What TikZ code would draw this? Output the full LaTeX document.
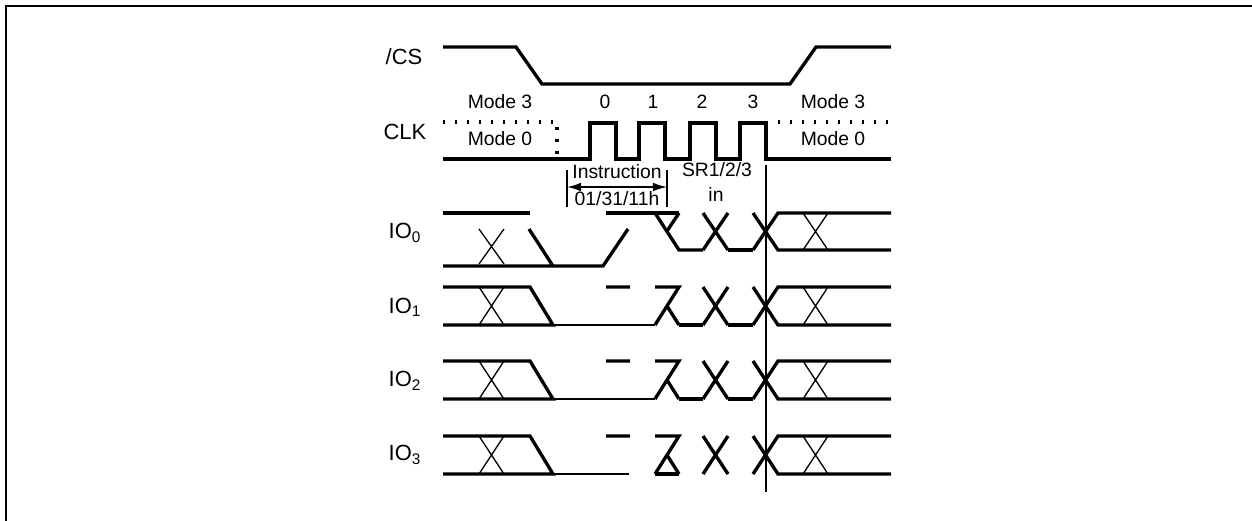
\documentclass[tikz,border=0pt]{standalone}
\usepackage{fontspec}
\setmainfont{Liberation Sans}
\usetikzlibrary{arrows,arrows.meta,positioning}

\begin{document}
\begin{tikzpicture}[x=0.02cm,y=-0.02cm,
  sig/.style={line width=1.9pt},
  xing/.style={line width=0.75pt},
  lowln/.style={line width=1pt},
  dots/.style={line width=1.9pt,dash pattern=on 1.3pt off 5.5pt},
  lbl/.style={font=\fontsize{11}{13}\selectfont,inner sep=0pt},
  signame/.style={font=\fontsize{12.5}{15}\selectfont,inner sep=0pt}]
\useasboundingbox (0,0) rectangle (1252,521);
\draw[line width=1.1pt] (6,521) -- (6,6) -- (1252,6);
% signal names
\node[signame] (cs) at (404,57) {/CS};
\node[signame] (clk) at (405,132) {CLK};
\node[signame] (io0) at (405,233) {IO\textsubscript{0}};
\node[signame] (io1) at (405,307) {IO\textsubscript{1}};
\node[signame] (io2) at (405,381) {IO\textsubscript{2}};
\node[signame] (io3) at (405,455) {IO\textsubscript{3}};
% /CS and CLK
\draw[sig] (443,47) -- (516,47) -- (542,84) -- (790,84) -- (816,47) -- (891,47);
\draw[sig] (443,159) foreach \x in {590,639,690,740} {-- (\x,159) -- (\x,123) -- (\x+26,123) -- (\x+26,159)} -- (891,159);
\draw[dots] (443,122) -- (557,122) -- (557,158);
\draw[dots] (778,122) -- (891,122);
\node[lbl] (m3a) at (500,102) {Mode 3};
\node[lbl] (m0a) at (500,139) {Mode 0};
\node[lbl] (m3b) at (833,102) {Mode 3};
\node[lbl] (m0b) at (833,139) {Mode 0};
\foreach \x/\n in {605/0,653/1,702/2,753/3}
  \node[lbl] (clk\n) at (\x,102) {\n};
% instruction / status register
\coordinate (il) at (567,187);
\coordinate (ir) at (667,187);
\draw[xing] (567,170) -- (567,207) (667,170) -- (667,207);
\draw[line width=1pt,{Latex[length=8pt,width=5pt]}-{Latex[length=8pt,width=5pt]}] (il) -- (ir);
\node[lbl] (ins) at (617,172) {Instruction};
\node[lbl] (code) at (617,199) {01/31/11h};
\node[lbl] (sr) at (717,170) {SR1/2/3};
\node[lbl] (srin) at (716,194) {in};
\draw[xing] (766,165) -- (766,492);
% IO0
\draw[sig] (443,213) -- (530,213) (606,213) -- (679,213);
\draw[xing] (479,229) -- (504,264) (504,229) -- (479,264);
\draw[sig] (443,266) -- (603,266) -- (628,229) (529,229) -- (553,266);
\draw[sig] (655,213) -- (679,250) -- (703,250) (679,213) -- (667,231);
% IO1 to IO3, left part
\foreach \t/\b in {287/325,361/399,436/474} {
  \draw[sig] (443,\t) -- (530,\t) -- (553,\b) -- (443,\b);
  \draw[xing] (479,\t) -- (504,\b) (504,\t) -- (479,\b);
  \draw[sig] (606,\t) -- (630,\t) (655,\t) -- (679,\t) -- (655,\b);
  \draw[sig] (667,{(\t+\b)/2}) -- (679,\b);
}
\draw[lowln] (553,325) -- (655,325) (553,399) -- (655,399) (553,474) -- (629,474);
\draw[sig] (655,474) -- (679,474);
\draw[sig] (679,325) -- (703,325) (679,399) -- (703,399);
% IO0 to IO3, right part
\foreach \t/\b in {213/250,287/325,361/399,436/474} {
  \draw[sig] (703,\t) -- (728,\b) (728,\t) -- (703,\b);
  \draw[sig] (753,\t) -- (778,\b) -- (891,\b) (753,\b) -- (778,\t) -- (891,\t);
  \draw[xing] (803,\t) -- (828,\b) (828,\t) -- (803,\b);
}
\draw[sig] (728,250) -- (753,250) (728,325) -- (753,325) (728,399) -- (753,399);
\end{tikzpicture}
\end{document}
